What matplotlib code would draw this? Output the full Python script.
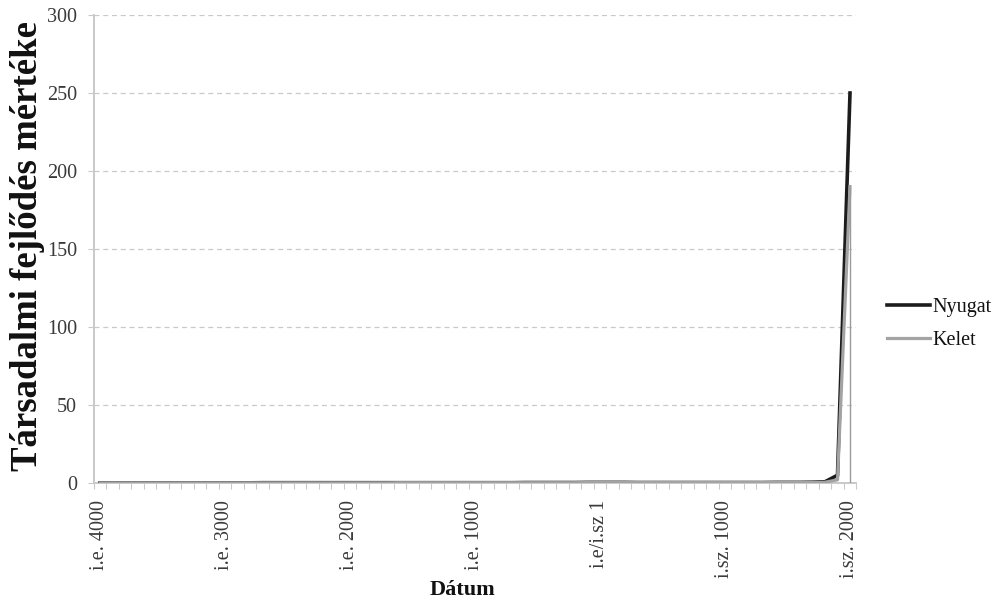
import matplotlib
matplotlib.use("Agg")
import matplotlib.pyplot as plt
from matplotlib.ticker import FixedLocator, MultipleLocator

plt.rcParams["font.family"] = ["Liberation Serif", "DejaVu Serif"]

# Categories: one every 100 years, from 4000 BCE to 2000 CE
years = list(range(-4000, 2001, 100))

nyugat = [
    0.1, 0.1, 0.1, 0.1, 0.1, 0.1, 0.1, 0.1, 0.1, 0.1,
    0.1, 0.1, 0.1, 0.2, 0.2, 0.2, 0.2, 0.2, 0.2, 0.2,
    0.2, 0.2, 0.2, 0.2, 0.2, 0.2, 0.2, 0.2, 0.2, 0.2,
    0.2, 0.2, 0.2, 0.2, 0.3, 0.3, 0.3, 0.3, 0.3, 0.4,
    0.4, 0.4, 0.4, 0.3, 0.3, 0.3, 0.3, 0.3, 0.3, 0.3,
    0.3, 0.3, 0.3, 0.3, 0.4, 0.4, 0.4, 0.5, 0.8, 5.0,
    250.0,
]
kelet = [
    0.1, 0.1, 0.1, 0.1, 0.1, 0.1, 0.1, 0.1, 0.1, 0.1,
    0.1, 0.1, 0.1, 0.1, 0.1, 0.1, 0.1, 0.1, 0.1, 0.1,
    0.1, 0.1, 0.1, 0.1, 0.2, 0.2, 0.2, 0.2, 0.2, 0.2,
    0.2, 0.2, 0.2, 0.2, 0.2, 0.2, 0.2, 0.2, 0.2, 0.3,
    0.3, 0.3, 0.3, 0.3, 0.3, 0.3, 0.3, 0.3, 0.3, 0.3,
    0.3, 0.3, 0.3, 0.3, 0.3, 0.3, 0.3, 0.3, 0.5, 2.0,
    190.0,
]

tick_years = [-4000, -3000, -2000, -1000, 0, 1000, 2000]
tick_labels = ["i.e. 4000", "i.e. 3000", "i.e. 2000", "i.e. 1000",
               "i.e/i.sz 1", "i.sz. 1000", "i.sz. 2000"]
y_ticks = [0, 50, 100, 150, 200, 250, 300]

W, H = 999, 605
fig = plt.figure(figsize=(W / 100, H / 100), dpi=100)
left, right, bottom, top = 93.75, 856.25, 483, 15
ax = fig.add_axes([left / W, 1 - bottom / H, (right - left) / W, (bottom - top) / H])

black = "#1c1c1c"
grey = "#a3a3a3"
axis_grey = "#c9c9c9"

ax.plot(years, nyugat, color=black, lw=2.6, label="Nyugat", zorder=3,
        solid_joinstyle="miter")
ax.plot(years, kelet, color=grey, lw=2.3, label="Kelet", zorder=4)
ax.vlines(years[-1], 0, kelet[-1], color="#9a9a9a", lw=1.0, zorder=4)

ax.set_xlim(-4050, 2050)
ax.set_ylim(0, 300)

ax.xaxis.set_major_locator(FixedLocator(tick_years))
ax.set_xticklabels(tick_labels, rotation=90, fontsize=14.5, color="#3a3a3a")
ax.xaxis.set_minor_locator(MultipleLocator(100, offset=50))
ax.tick_params(axis="x", which="major", length=0, pad=12)
ax.tick_params(axis="x", which="minor", length=4, width=0.8, color=axis_grey,
               direction="out")

ax.set_yticks(y_ticks)
ax.tick_params(axis="y", which="major", length=4, width=0.8, color=axis_grey,
               labelsize=14.5, labelcolor="#3a3a3a", pad=8)

for side in ["top", "right"]:
    ax.spines[side].set_visible(False)
for side in ["left", "bottom"]:
    ax.spines[side].set_color(axis_grey)
    ax.spines[side].set_linewidth(1.4)

ax.yaxis.grid(True, color=axis_grey, linestyle=(0, (4, 3)), lw=0.9)
ax.set_axisbelow(True)

fig.text(28 / W, 1 - 246 / H, "Társadalmi fejlődés mértéke", rotation=90,
         fontsize=26.5, fontweight="bold", ha="center", va="center",
         color="#111111")
fig.text(462 / W, 1 - 590 / H, "Dátum", fontsize=16, fontweight="bold",
         ha="center", va="center", color="#111111")

fig.legend(loc="center left", bbox_to_anchor=(887 / W, 1 - 324 / H),
           frameon=False, fontsize=14.5, handlelength=2.15,
           handletextpad=0.1, labelspacing=0.7, borderpad=0,
           borderaxespad=0, labelcolor="#111111")

fig.savefig("out.png", dpi=100)
